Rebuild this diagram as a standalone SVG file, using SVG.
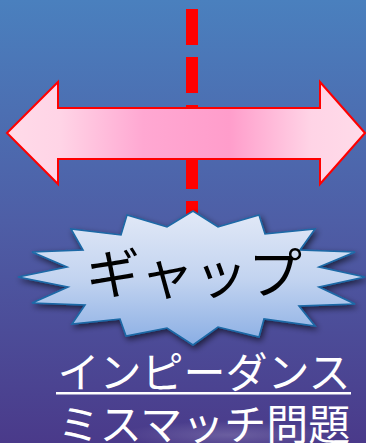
<svg xmlns="http://www.w3.org/2000/svg" width="366" height="443" viewBox="0 0 366 443">
<defs>
<linearGradient id="bg" x1="0" y1="0" x2="0" y2="1">
<stop offset="0" stop-color="#4a80be"/>
<stop offset="0.5" stop-color="#4e5ea6"/>
<stop offset="1" stop-color="#4a3a8a"/>
</linearGradient>
<linearGradient id="arrowFill" x1="0" y1="0" x2="1" y2="0">
<stop offset="0" stop-color="#ffdbe9"/>
<stop offset="0.15" stop-color="#ffd4e6"/>
<stop offset="0.38" stop-color="#ffa8d2"/>
<stop offset="0.62" stop-color="#ff9dcb"/>
<stop offset="0.85" stop-color="#ffd4e6"/>
<stop offset="1" stop-color="#ffdbe9"/>
</linearGradient>
<linearGradient id="starFill" x1="0" y1="0" x2="0" y2="1">
<stop offset="0" stop-color="#e2e9f7"/>
<stop offset="0.5" stop-color="#c3d4f0"/>
<stop offset="1" stop-color="#8aaee4"/>
</linearGradient>
<filter id="shadow" x="-20%" y="-20%" width="140%" height="140%">
<feGaussianBlur in="SourceAlpha" stdDeviation="3"/>
<feOffset dx="2" dy="3" result="b"/>
<feComponentTransfer><feFuncA type="linear" slope="0.6"/></feComponentTransfer>
<feMerge><feMergeNode/><feMergeNode in="SourceGraphic"/></feMerge>
</filter>
<radialGradient id="cloud" cx="0.5" cy="0.5" r="0.5">
<stop offset="0" stop-color="#ffffff" stop-opacity="0.18"/>
<stop offset="1" stop-color="#ffffff" stop-opacity="0"/>
</radialGradient>
</defs>
<style>
.jp { font-family: "Noto Sans CJK JP", "Noto Sans", sans-serif; }
.label { fill: #ffffff; font-size: 42px; }
</style>
<rect x="0" y="0" width="366" height="443" fill="url(#bg)"/>
<ellipse cx="230" cy="435" rx="110" ry="14" fill="url(#cloud)"/>
<g id="connectors">
<line x1="192" y1="9" x2="192" y2="225" stroke="#ff0000" stroke-width="12" stroke-dasharray="36 12"/>
</g>
<g id="double-arrow">
<polygon points="7,133 58,82 58,108 320,108 320,82 365,133 320,184 320,159 58,159 58,184" fill="url(#arrowFill)" stroke="#ff0000" stroke-width="2" stroke-linejoin="miter"/>
</g>
<g id="gap">
<polygon filter="url(#shadow)" points="193,211 218,227 259,215 265,234 315,229 300,250 355,252 319,267 365,277 319,287 355,304 299,306 315,326 264,319 259,337 218,327 193,345 167,328 126,336 120,319 72,324 85,305 32,303 68,287 18,277 67,267 32,252 83,250 71,229 121,235 127,215 167,227" fill="url(#starFill)" stroke="#1b69a6" stroke-width="1.6" stroke-linejoin="miter"/>
<text class="jp" x="194" y="294" font-size="54" text-anchor="middle" fill="#000000">ギャップ</text>
</g>
<g id="impedance-label">
<text class="jp label" x="204" y="388" text-anchor="middle">インピーダンス</text>
<rect x="56" y="392" width="295" height="2.5" fill="#ffffff"/>
<text class="jp label" x="204" y="440" text-anchor="middle">ミスマッチ問題</text>
</g>
</svg>
